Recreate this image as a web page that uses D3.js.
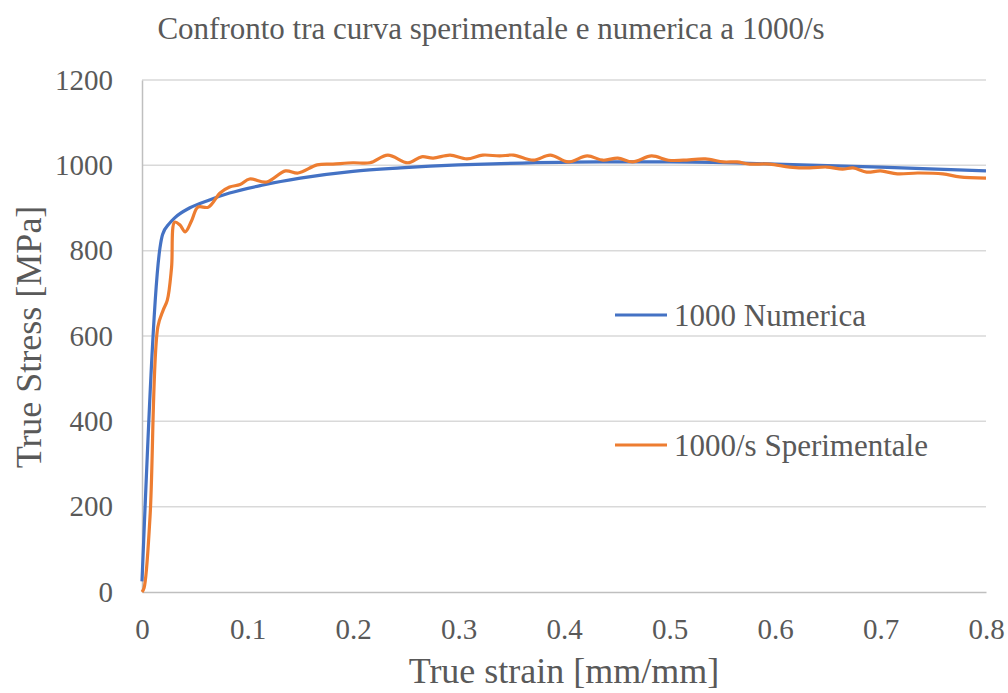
<!DOCTYPE html>
<html>
<head>
<meta charset="utf-8">
<script src="https://cdn.jsdelivr.net/npm/d3@7"></script>
<style>
  body { margin: 0; background: #fff; }
  text { font-family: "Liberation Serif", "Times New Roman", serif; fill: #595959; }
</style>
</head>
<body>
<svg width="1008" height="693"></svg>
<script>
// curva numerica 1000
const numStrain = [0, 0.017, 0.0195, 0.026, 0.031, 0.045, 0.064, 0.083, 0.115, 0.15, 0.2, 0.245, 0.3, 0.34, 0.434, 0.5, 0.6, 0.7, 0.8]
const numStress = [25, 806, 838, 864, 877, 900, 919, 935, 954, 970, 986, 994, 1001, 1004, 1008, 1008, 1003, 996, 987]

// curva sperimentale 1000/s
const expStrain = [0, 0.002, 0.0076, 0.015, 0.02, 0.024, 0.028, 0.031, 0.036, 0.041, 0.047, 0.053, 0.063, 0.074, 0.083, 0.093,
  0.102, 0.118, 0.136, 0.148, 0.166, 0.181, 0.2, 0.216, 0.233, 0.252, 0.265, 0.276, 0.292, 0.308, 0.323, 0.339, 0.352, 0.371,
  0.387, 0.404, 0.422, 0.437, 0.451, 0.465, 0.483, 0.499, 0.513, 0.534, 0.551, 0.564, 0.576, 0.595, 0.614, 0.633, 0.649, 0.664,
  0.674, 0.687, 0.7, 0.716, 0.735, 0.759, 0.775, 0.8]
const expStress = [0, 10, 176, 621, 660, 684, 760, 867, 860, 844, 870, 902, 902, 935, 949, 955,
  968, 961, 987, 982, 1001, 1003, 1006, 1006, 1024, 1006, 1020, 1017, 1024, 1015, 1024, 1022, 1024, 1012,
  1024, 1008, 1022, 1012, 1017, 1008, 1022, 1012, 1012, 1015, 1008, 1008, 1003, 1003, 996, 994, 996, 991,
  994, 984, 987, 980, 982, 980, 973, 970]

const xTicks = [0, 0.1, 0.2, 0.3, 0.4, 0.5, 0.6, 0.7, 0.8]
const yTicks = [0, 200, 400, 600, 800, 1000, 1200]
const seriesNames = ["1000 Numerica", "1000/s Sperimentale"]
const colors = ["#4472C4", "#ED7D31"]

const svg = d3.select("svg")
const mLeft = 142, mRight = 986, mTop = 80, mBottom = 592

const x = d3.scaleLinear().domain([0, 0.8]).range([mLeft, mRight])
const y = d3.scaleLinear().domain([0, 1200]).range([mBottom, mTop])

// griglia
svg.append("g")
  .selectAll("line")
  .data(yTicks.filter(d => d > 0))
  .join("line")
  .attr("x1", mLeft).attr("x2", mRight)
  .attr("y1", d => y(d)).attr("y2", d => y(d))
  .attr("stroke", "#d9d9d9").attr("stroke-width", 1.5)

const xAxis = svg.append("g")
  .attr("transform", `translate(0,${mBottom})`)
  .call(d3.axisBottom(x).tickValues(xTicks).tickFormat(d => d === 0 ? "0" : d3.format(".1f")(d)).tickSize(0).tickPadding(26))
xAxis.select(".domain").attr("stroke", "#bfbfbf").attr("stroke-width", 1.5)
xAxis.selectAll("text").attr("font-size", 29).style("font-family", "Liberation Serif").attr("fill", "#595959")

const yAxis = svg.append("g")
  .attr("transform", `translate(${mLeft},0)`)
  .call(d3.axisLeft(y).tickValues(yTicks).tickFormat(d3.format("d")).tickSize(0).tickPadding(29))
yAxis.select(".domain").attr("stroke", "#bfbfbf").attr("stroke-width", 1.5)
yAxis.selectAll("text").attr("font-size", 29).style("font-family", "Liberation Serif").attr("fill", "#595959")

const line = d3.line()
  .x(d => x(d[0]))
  .y(d => y(d[1]))

const numData = numStrain.map((s, i) => [s, numStress[i]])
const expData = expStrain.map((s, i) => [s, expStress[i]])

svg.append("path")
  .datum(numData)
  .attr("fill", "none")
  .attr("stroke", colors[0])
  .attr("stroke-width", 3.2)
  .attr("stroke-linejoin", "round")
  .attr("d", line.curve(d3.curveMonotoneX))

svg.append("path")
  .datum(expData)
  .attr("fill", "none")
  .attr("stroke", colors[1])
  .attr("stroke-width", 3.2)
  .attr("stroke-linejoin", "round")
  .attr("d", line.curve(d3.curveCatmullRom.alpha(0.5)))

// titolo
svg.append("text")
  .attr("x", 491).attr("y", 39)
  .attr("text-anchor", "middle")
  .attr("font-size", 31)
  .text("Confronto tra curva sperimentale e numerica a 1000/s")

svg.append("text")
  .attr("x", 564).attr("y", 683)
  .attr("text-anchor", "middle")
  .attr("font-size", 36)
  .text("True strain [mm/mm]")

svg.append("text")
  .attr("transform", "translate(41,337) rotate(-90)")
  .attr("text-anchor", "middle")
  .attr("font-size", 36)
  .text("True Stress [MPa]")

// legenda
const legend = svg.append("g")
  .selectAll("g")
  .data(seriesNames)
  .join("g")
  .attr("transform", (d, i) => `translate(615,${315 + i * 130})`)

legend.append("line")
  .attr("x1", 0).attr("x2", 52)
  .attr("stroke", (d, i) => colors[i])
  .attr("stroke-width", 3.2)

legend.append("text")
  .attr("x", 59).attr("y", 11)
  .attr("font-size", 31)
  .text(d => d)
</script>
</body>
</html>
